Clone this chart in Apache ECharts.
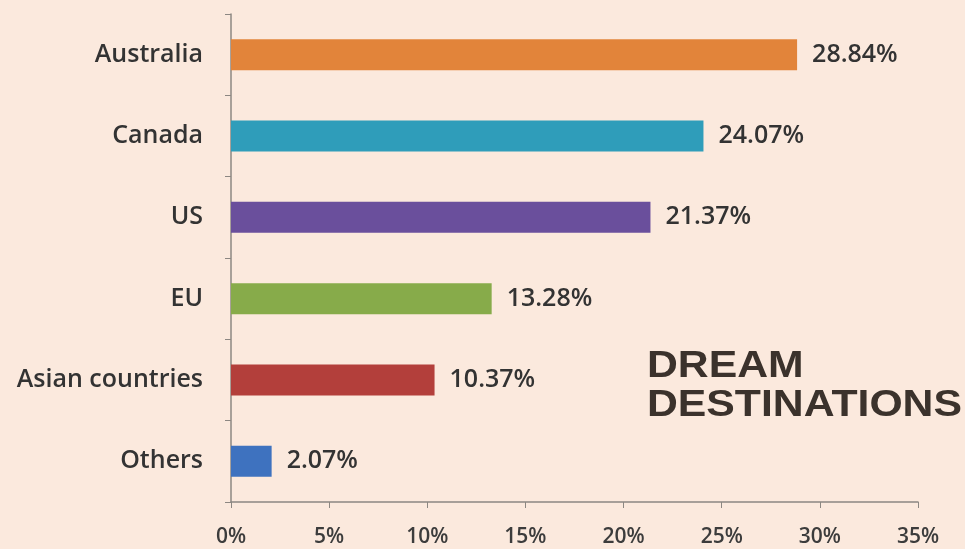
<!DOCTYPE html>
<html>
<head>
<meta charset="utf-8">
<script src="https://cdn.jsdelivr.net/npm/echarts@6/dist/echarts.min.js"></script>
<style>
  html, body { margin: 0; padding: 0; background: #fbe9dd; }
  #chart { width: 965px; height: 549px; }
</style>
</head>
<body>
<div id="chart"></div>
<script>
// Dream destinations, share of respondents (%)
const categories = ['Australia', 'Canada', 'US', 'EU', 'Asian countries', 'Others'];
const shares = [28.84, 24.07, 21.37, 13.28, 10.37, 2.07];
const barColors = ['#e2843a', '#2f9dba', '#6a4f9c', '#87ab4a', '#b33f3b', '#3e72bf'];
const xTicks = [0, 5, 10, 15, 20, 25, 30, 35];
const headline = ['DREAM', 'DESTINATIONS'];

const chart = echarts.init(document.getElementById('chart'));
const labelFont = '"Open Sans", Lato, sans-serif';
const headFont = '"Liberation Sans", Arial, sans-serif';

chart.setOption({
  backgroundColor: '#fbe9dd',
  animation: false,
  graphic: headline.map((line, i) => ({
    type: 'text',
    x: 647,
    y: 347 + i * 39,
    scaleX: 1.155,
    silent: true,
    style: {
      text: line,
      fontFamily: headFont,
      fontWeight: 'bold',
      fontSize: 37,
      lineHeight: 39,
      fill: '#3b322c',
      textVerticalAlign: 'top'
    }
  })),
  grid: { left: 231, right: 47, top: 14, bottom: 47, containLabel: false },
  xAxis: {
    type: 'value',
    min: xTicks[0],
    max: xTicks[xTicks.length - 1],
    interval: 5,
    splitLine: { show: false },
    axisLine: { show: true, lineStyle: { color: '#8c8782', width: 1.5 } },
    axisTick: { show: true, length: 6, lineStyle: { color: '#8c8782' } },
    axisLabel: {
      margin: 25,
      formatter: v => v + '%',
      fontFamily: labelFont,
      fontWeight: 600,
      fontSize: 21,
      color: '#3c3c3c'
    }
  },
  yAxis: {
    type: 'category',
    data: categories,
    inverse: true,
    axisLine: { show: true, lineStyle: { color: '#8c8782', width: 1.5 } },
    axisTick: { show: true, length: 6, lineStyle: { color: '#8c8782' } },
    axisLabel: {
      margin: 28,
      fontFamily: labelFont,
      fontWeight: 600,
      fontSize: 25,
      color: '#333333'
    }
  },
  series: [{
    type: 'bar',
    data: shares.map((v, i) => ({ value: v, itemStyle: { color: barColors[i] } })),
    barWidth: 31,
    label: {
      show: true,
      position: 'right',
      distance: 15,
      formatter: p => p.value.toFixed(2) + '%',
      fontFamily: labelFont,
      fontWeight: 600,
      fontSize: 25,
      color: '#333333'
    }
  }]
});
</script>
</body>
</html>
